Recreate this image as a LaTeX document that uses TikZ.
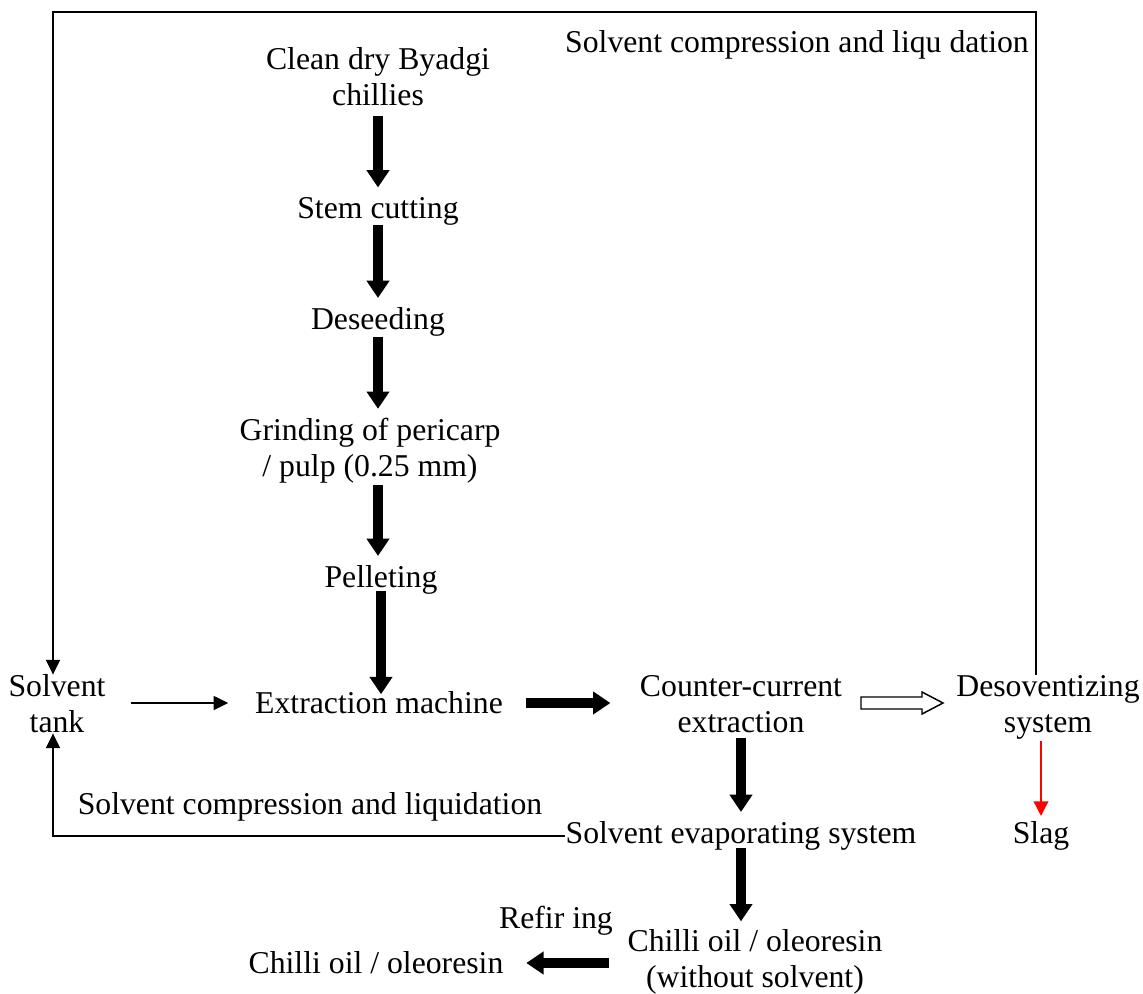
\documentclass[tikz,border=0pt]{standalone}
\usepackage{fontspec}
\setmainfont{Liberation Serif}
\usetikzlibrary{arrows.meta}
\begin{document}
\begin{tikzpicture}[x=0.75pt,y=-0.75pt,
  lbl/.style={inner sep=0pt, align=center, font=\fontsize{23.8}{27}\selectfont},
  bigarrow/.style={line width=8pt, -{Triangle[width=16.5pt,length=13pt]}},
  thinarrow/.style={line width=1.1pt, -{Triangle[width=10.5pt,length=11pt]}},
  framestyle/.style={line width=1.1pt}]
\useasboundingbox (0,0) rectangle (1143,993);
\node[lbl] (clean) at (378,77) {Clean dry Byadgi\\chillies};
\node[lbl] (stem) at (378,211) {Stem cutting};
\node[lbl] (deseed) at (378,322) {Deseeding};
\node[lbl] (grind) at (370,451) {Grinding of pericarp\\/ pulp (0.25 mm)};
\node[lbl] (pellet) at (381,580) {Pelleting};
\node[lbl] (extr) at (379,703) {Extraction machine};
\node[lbl] (tank) at (57,704) {Solvent\\tank};
\node[lbl] (counter) at (741,704) {Counter-current\\extraction};
\node[lbl] (desov) at (1048,707) {Desoventizing\\system};
\node[lbl] (slag) at (1041,836) {Slag};
\node[lbl] (evap) at (741,836) {Solvent evaporating system};
\node[lbl] (oil) at (755,962) {Chilli oil / oleoresin\\(without solvent)};
\node[lbl] (oilout) at (376,963) {Chilli oil / oleoresin};
\node[lbl] (refin) at (556,921) {Refir ing};
\node[lbl] (toplbl) at (797,45) {Solvent compression and liqu dation};
\node[lbl] (botlbl) at (310,807) {Solvent compression and liquidation};
\coordinate (tl) at (53,12);
\coordinate (tr) at (1036,12);
% main column
\draw[bigarrow,shorten <=7pt,shorten >=7pt] (clean.south) -- (stem.north);
\draw[bigarrow,shorten <=0pt,shorten >=7pt] (stem.south) -- (deseed.north);
\draw[bigarrow,shorten <=0pt,shorten >=7pt] (deseed.south) -- (deseed.south |- grind.north);
\draw[bigarrow,shorten <=1pt,shorten >=7pt] (grind.south -| stem) -- (stem |- pellet.north);
\draw[bigarrow,shorten <=-3pt,shorten >=-2pt] (pellet.south) -- (pellet.south |- extr.north);
% horizontal
\draw[thinarrow,shorten <=19pt,shorten >=20pt] (tank.east |- extr) -- (extr.west);
\draw[bigarrow,shorten <=17pt,shorten >=22pt] (extr.east) -- (extr.east -| counter.west);
\draw[framestyle] (861,697) -- (922,697) -- (922,692) -- (943,703) -- (922,714) -- (922,709) -- (861,709) -- cycle;
\draw[bigarrow,shorten <=4pt,shorten >=7pt] (counter.south) -- (evap.north);
\draw[bigarrow,shorten <=-2pt,shorten >=6pt] (evap.south) -- (evap.south |- oil.north);
\draw[bigarrow,shorten <=13.5pt,shorten >=17pt] (oil.west |- oilout) -- (oilout.east);
\draw[red,line width=1.1pt,-{Triangle[width=11pt,length=11pt]},shorten <=1pt,shorten >=4pt] (desov.south -| slag) -- (slag.north);
% frame
\draw[framestyle,-{Triangle[width=10.5pt,length=11pt]}] (desov.north -| tr) -- (tr) -- (tl) -- (tl |- tank.north);
\draw[thinarrow] (evap.west) -- (evap.west -| tl) -- (tl |- tank.south);
\end{tikzpicture}
\end{document}
